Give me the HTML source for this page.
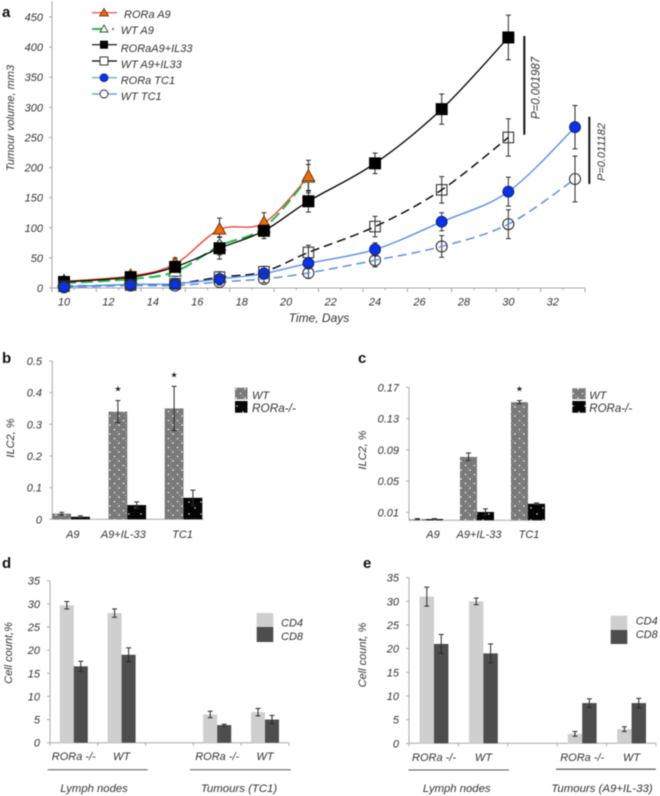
<!DOCTYPE html>
<html>
<head>
<meta charset="utf-8">
<title>Tumour volume, ILC2 and cell count charts</title>
<style>
html,body{margin:0;padding:0;background:#fff;}
#figure{display:block;width:660px;height:796px;filter:blur(0.6px);}
text{font-family:"Liberation Sans",sans-serif;font-style:italic;font-size:11px;fill:#333;}
.panel-letter{font-style:normal;font-weight:bold;font-size:15px;fill:#111;}
</style>
</head>
<body>
<svg id="figure" xmlns="http://www.w3.org/2000/svg" width="660" height="796" viewBox="0 0 660 796">
  <defs>
    <pattern id="checker" width="2" height="2" patternUnits="userSpaceOnUse">
      <rect width="2" height="2" fill="#5e5e5e"/>
      <rect width="1" height="1" fill="#9a9a9a"/>
      <rect x="1" y="1" width="1" height="1" fill="#8e8e8e"/>
    </pattern>
    <pattern id="wt-fill" width="9" height="9" patternUnits="userSpaceOnUse">
      <rect width="9" height="9" fill="url(#checker)"/>
      <circle cx="2" cy="2" r="0.8" fill="#fff"/>
      <circle cx="6.5" cy="6.5" r="0.8" fill="#fff"/>
    </pattern>
    <pattern id="ko-fill" width="12" height="12" patternUnits="userSpaceOnUse">
      <rect width="12" height="12" fill="#050505"/>
      <circle cx="3" cy="4" r="0.7" fill="#fff"/>
      <circle cx="9" cy="10" r="0.7" fill="#fff"/>
    </pattern>
  </defs>

  <!-- Panel letters -->
  <text class="panel-letter" x="2" y="17">a</text>
  <text class="panel-letter" x="2" y="363">b</text>
  <text class="panel-letter" x="358" y="363">c</text>
  <text class="panel-letter" x="2" y="568">d</text>
  <text class="panel-letter" x="363" y="568">e</text>

  <!-- Axis titles -->
  <text transform="translate(14,118) rotate(-90)" text-anchor="middle">Tumour volume, mm3</text>
  <text x="319" y="322" text-anchor="middle" style="font-size:12px">Time, Days</text>
  <text transform="translate(14,438) rotate(-90)" text-anchor="middle">ILC2, %</text>
  <text transform="translate(366,450) rotate(-90)" text-anchor="middle">ILC2, %</text>
  <text transform="translate(12,653) rotate(-90)" text-anchor="middle">Cell count,%</text>
  <text transform="translate(366,655) rotate(-90)" text-anchor="middle">Cell count, %</text>

  <!-- Panel a legend -->
  <g>
    <g>
      <line x1="92" y1="12.7" x2="117" y2="12.7" stroke="#f0392b" stroke-width="1.2"/>
      <polygon points="104,8.5 108.5,16 99.5,16" fill="#ee6a0a" stroke="#5a2a05" stroke-width="0.8"/>
      <text x="124" y="18">RORa A9</text>
    </g>
    <g>
      <line x1="92" y1="29" x2="117" y2="29" stroke="#1fb84a" stroke-width="2" stroke-dasharray="12,8,2,3"/>
      <polygon points="104,25 108,32 100,32" fill="#fff" stroke="#1a5c2a" stroke-width="0.9"/>
      <text x="120.7" y="34">WT A9</text>
    </g>
    <g>
      <line x1="92" y1="44.7" x2="117" y2="44.7" stroke="#000" stroke-width="1.2"/>
      <rect x="100" y="40.7" width="8" height="8" fill="#000"/>
      <text x="120.7" y="52">RORaA9+IL33</text>
    </g>
    <g>
      <line x1="92" y1="61" x2="117" y2="61" stroke="#000" stroke-width="1.2"/>
      <rect x="100" y="57" width="8" height="8" fill="#fff" stroke="#222" stroke-width="0.9"/>
      <text x="120.7" y="68">WT A9+IL33</text>
    </g>
    <g>
      <line x1="92" y1="77.7" x2="117" y2="77.7" stroke="#5b8fe8" stroke-width="1.2"/>
      <circle cx="104" cy="77.7" r="4" fill="#0a32e6" stroke="#0a1a60" stroke-width="0.7"/>
      <text x="120.7" y="84">RORa TC1</text>
    </g>
    <g>
      <line x1="92" y1="94" x2="117" y2="94" stroke="#5b8fe8" stroke-width="1.2"/>
      <circle cx="104" cy="94" r="4" fill="#fff" stroke="#222" stroke-width="0.9"/>
      <text x="120.7" y="100">WT TC1</text>
    </g>
  </g>

  <!-- P value brackets -->
  <line x1="524.3" y1="36" x2="524.3" y2="134.7" stroke="#111" stroke-width="2"/>
  <text transform="translate(539.5,88) rotate(-90)" text-anchor="middle" style="font-size:11.5px">P=0.001987</text>
  <line x1="589.3" y1="116.7" x2="589.3" y2="184" stroke="#111" stroke-width="2"/>
  <text transform="translate(605,152) rotate(-90)" text-anchor="middle" style="font-size:11px">P=0.011182</text>

  <!-- Panel b legend -->
  <g>
    <rect x="235" y="387.7" width="12.5" height="11.6" fill="url(#wt-fill)"/>
    <rect x="235" y="401" width="12.5" height="11.7" fill="url(#ko-fill)"/>
    <text x="252" y="399">WT</text>
    <text x="252" y="412" style="font-size:11.8px">RORa-/-</text>
  </g>

  <!-- Panel c legend -->
  <g>
    <rect x="572.3" y="388.3" width="13.4" height="11" fill="url(#wt-fill)"/>
    <rect x="572.3" y="401" width="13.4" height="11.7" fill="url(#ko-fill)"/>
    <text x="589.3" y="399">WT</text>
    <text x="589.3" y="412" style="font-size:11.5px">RORa-/-</text>
  </g>

  <!-- Panel d legend -->
  <g>
    <rect x="256.7" y="613" width="16.6" height="14" fill="#cfcfcf"/>
    <rect x="256.7" y="627" width="16.6" height="15" fill="#4d4d4d"/>
    <text x="281" y="626.5">CD4</text>
    <text x="281" y="640">CD8</text>
  </g>

  <!-- Panel e legend -->
  <g>
    <rect x="610.7" y="615.7" width="16.6" height="14.3" fill="#cfcfcf"/>
    <rect x="610.7" y="630" width="16.6" height="14" fill="#4d4d4d"/>
    <text x="635.7" y="624.5">CD4</text>
    <text x="635.7" y="638">CD8</text>
  </g>

  <!-- Group brackets panels d and e -->
  <line x1="47.7" y1="769.7" x2="147.7" y2="769.7" stroke="#555" stroke-width="1"/>
  <line x1="190" y1="769.7" x2="290.7" y2="769.7" stroke="#555" stroke-width="1"/>
  <text x="94" y="792" text-anchor="middle" style="font-size:11.3px">Lymph nodes</text>
  <text x="239" y="792" text-anchor="middle" style="font-size:11.4px">Tumours (TC1)</text>
  <line x1="408.5" y1="770" x2="509" y2="770" stroke="#555" stroke-width="1"/>
  <line x1="556" y1="769.3" x2="656" y2="769.3" stroke="#333" stroke-width="1"/>
  <text x="456.7" y="792" text-anchor="middle" style="font-size:11.3px">Lymph nodes</text>
  <text x="602" y="792" text-anchor="middle" style="font-size:11.4px">Tumours (A9+IL-33)</text>
</svg>

<script>
// ---------- Panel a data ----------
const daysA9 = [10, 13, 15, 17, 19, 21];
const daysIL33 = [10, 13, 15, 17, 19, 21, 24, 27, 30];
const daysTC1 = [10, 13, 15, 17, 19, 21, 24, 27, 30, 33];
const roraA9Values = [11, 20, 40, 97, 108, 185];
const roraA9Errors = [4, 4, 10, 19, 17, 27];
const wtA9Values = [8, 15, 27, 70, 100, 183];
const wtA9Errors = [4, 4, 8, 15, 12, 22];
const roraIL33Values = [10, 18, 35, 66, 95, 144, 207, 297, 416];
const roraIL33Errors = [8, 6, 12, 18, 13, 18, 17, 25, 37];
const wtIL33Values = [3, 5, 7, 18, 27, 59, 102, 163, 250];
const wtIL33Errors = [3, 4, 6, 9, 9, 12, 17, 22, 31];
const roraTC1Values = [2, 6, 7, 15, 24, 41, 64, 110, 160, 267];
const roraTC1Errors = [2, 3, 3, 6, 7, 9, 11, 15, 24, 36];
const wtTC1Values = [1, 4, 4, 10, 15, 25, 46, 69, 106, 181];
const wtTC1Errors = [2, 3, 3, 5, 6, 9, 11, 18, 24, 38];
const xTicksA = [10, 12, 14, 16, 18, 20, 22, 24, 26, 28, 30, 32];
const yTicksA = [0, 50, 100, 150, 200, 250, 300, 350, 400, 450];

// ---------- Panel b data ----------
const categoriesB = ['A9', 'A9+IL-33', 'TC1'];
const wtB = [0.018, 0.34, 0.35];
const wtErrB = [0.004, 0.035, 0.07];
const koB = [0.008, 0.045, 0.068];
const koErrB = [0.003, 0.01, 0.024];
const starsB = [false, true, true];
const yTicksB = [0, 0.1, 0.2, 0.3, 0.4, 0.5];
const yTickLabelsB = ['0', '0.1', '0.2', '0.3', '0.4', '0.5'];

// ---------- Panel c data ----------
const categoriesC = ['A9', 'A9+IL-33', 'TC1'];
const wtC = [0.0015, 0.081, 0.151];
const wtErrC = [0.0005, 0.005, 0.002];
const koC = [0.0015, 0.0105, 0.021];
const koErrC = [0.0005, 0.004, 0.001];
const starsC = [false, false, true];
const yTicksC = [0.01, 0.05, 0.09, 0.13, 0.17];
const yTickLabelsC = ['0.01', '0.05', '0.09', '0.13', '0.17'];

// ---------- Panel d data ----------
const categoriesD = ['RORa -/-', 'WT', '', 'RORa -/-', 'WT'];
const cd4D = [29.7, 28, null, 6.1, 6.6];
const cd4ErrD = [0.8, 0.9, null, 0.7, 0.8];
const cd8D = [16.5, 19, null, 3.8, 5];
const cd8ErrD = [1.1, 1.5, null, 0.2, 0.9];
const yTicksD = [0, 5, 10, 15, 20, 25, 30, 35];

// ---------- Panel e data ----------
const categoriesE = ['RORa -/-', 'WT', '', 'RORa -/-', 'WT'];
const cd4E = [31, 30, null, 2, 3];
const cd4ErrE = [2, 0.7, null, 0.5, 0.5];
const cd8E = [21, 19, null, 8.5, 8.5];
const cd8ErrE = [2, 2, null, 0.9, 1];
const yTicksE = [0, 5, 10, 15, 20, 25, 30, 35];

const NS = 'http://www.w3.org/2000/svg';
const root = document.getElementById('figure');

function make(tag, attrs, parent, name) {
  const el = document.createElementNS(NS, tag);
  for (const k in attrs) el.setAttribute(k, attrs[k]);
  
  
  parent.appendChild(el);
  return el;
}
function label(parent, x, y, str, anchor, name) {
  const t = make('text', { x: x, y: y, 'text-anchor': anchor }, parent, name);
  t.textContent = str;
  return t;
}
function linear(d0, d1, r0, r1) {
  return function (v) { return r0 + (v - d0) * (r1 - r0) / (d1 - d0); };
}
function smoothPath(pts) {
  let d = 'M' + pts[0][0] + ',' + pts[0][1];
  for (let i = 0; i < pts.length - 1; i++) {
    const p0 = pts[Math.max(i - 1, 0)], p1 = pts[i], p2 = pts[i + 1], p3 = pts[Math.min(i + 2, pts.length - 1)];
    const c1x = p1[0] + (p2[0] - p0[0]) / 6, c1y = p1[1] + (p2[1] - p0[1]) / 6;
    const c2x = p2[0] - (p3[0] - p1[0]) / 6, c2y = p2[1] - (p3[1] - p1[1]) / 6;
    d += 'C' + c1x + ',' + c1y + ' ' + c2x + ',' + c2y + ' ' + p2[0] + ',' + p2[1];
  }
  return d;
}
function errorBar(parent, x, yTop, yBot, cap, name) {
  const g = make('g', { stroke: '#2a2a2a', 'stroke-width': 1, fill: 'none' }, parent, name);
  make('line', { x1: x, x2: x, y1: yTop, y2: yBot }, g, 'error-stem');
  make('line', { x1: x - cap, x2: x + cap, y1: yTop, y2: yTop }, g, 'error-cap-top');
  make('line', { x1: x - cap, x2: x + cap, y1: yBot, y2: yBot }, g, 'error-cap-bottom');
}

// ---------- Panel a ----------
const xA = linear(10, 33, 64, 575);
const yA = linear(0, 450, 288, 17);
const panelA = make('g', {}, root, 'tumour-growth-chart');
const axisA = make('g', { stroke: '#a5a5a5', 'stroke-width': 1 }, panelA, 'tumour-growth-axes');
make('line', { x1: 52, x2: 52, y1: 1, y2: 288 }, axisA, 'y-axis-line');
make('line', { x1: 52, x2: 585, y1: 288, y2: 288 }, axisA, 'x-axis-line');
yTicksA.forEach(function (v) {
  make('line', { x1: 49, x2: 52, y1: yA(v), y2: yA(v) }, axisA, 'y-tick');
  label(panelA, 43, yA(v) + 4, String(v), 'end', 'y-tick-label');
});
for (let i = 0; i <= 24; i++) {
  const tx = 52 + i * (585 - 52) / 24;
  make('line', { x1: tx, x2: tx, y1: 288, y2: i % 2 === 0 ? 292 : 290 }, axisA, 'x-tick');
}
xTicksA.forEach(function (v) {
  label(panelA, xA(v), 305.5, String(v), 'middle', 'x-tick-label');
});

const seriesA = [
  { name: 'rora-a9', days: daysA9, vals: roraA9Values, errs: roraA9Errors, color: '#f0392b', width: 1.3, dash: '', marker: 'tri', fill: '#ee6a0a', edge: '#5a2a05' },
  { name: 'wt-a9', days: daysA9, vals: wtA9Values, errs: wtA9Errors, color: '#1fb84a', width: 2, dash: '12,5', marker: 'tri', fill: '#ffffff', edge: '#1a5c2a' },
  { name: 'rora-a9-il33', days: daysIL33, vals: roraIL33Values, errs: roraIL33Errors, color: '#000000', width: 1.3, dash: '', marker: 'square', fill: '#000000', edge: '#000000' },
  { name: 'wt-a9-il33', days: daysIL33, vals: wtIL33Values, errs: wtIL33Errors, color: '#000000', width: 1.4, dash: '9,5', marker: 'square', fill: 'none', edge: '#333333' },
  { name: 'rora-tc1', days: daysTC1, vals: roraTC1Values, errs: roraTC1Errors, color: '#5b8fe8', width: 1.4, dash: '', marker: 'circle', fill: '#0a32e6', edge: '#0a1a60' },
  { name: 'wt-tc1', days: daysTC1, vals: wtTC1Values, errs: wtTC1Errors, color: '#5b8fe8', width: 1.5, dash: '9,5', marker: 'circle', fill: 'none', edge: '#333333' }
];
seriesA.forEach(function (s) {
  const g = make('g', {}, panelA, 'series-' + s.name + '-line');
  s.days.forEach(function (d, i) {
    errorBar(g, xA(d), yA(s.vals[i] + s.errs[i]), yA(s.vals[i] - s.errs[i]), 2.5, 'error-bar');
  });
  const pts = s.days.map(function (d, i) { return [xA(d), yA(s.vals[i])]; });
  const attrs = { d: smoothPath(pts), fill: 'none', stroke: s.color, 'stroke-width': s.width };
  if (s.dash) attrs['stroke-dasharray'] = s.dash;
  make('path', attrs, g, 'curve');
});
[1, 0, 2, 3, 4, 5].forEach(function (idx) {
  const s = seriesA[idx];
  const g = make('g', {}, panelA, 'series-' + s.name + '-markers');
  s.days.forEach(function (d, i) {
    const x = xA(d), y = yA(s.vals[i]);
    if (s.marker === 'tri') {
      make('polygon', { points: (x) + ',' + (y - 7) + ' ' + (x + 6.2) + ',' + (y + 4.5) + ' ' + (x - 6.2) + ',' + (y + 4.5), fill: s.fill, stroke: s.edge, 'stroke-width': 0.9 }, g, 'marker');
    } else if (s.marker === 'square') {
      const open = s.fill === 'none';
      const size = open ? 10.5 : 12;
      make('rect', { x: x - size / 2, y: y - size / 2, width: size, height: size, fill: s.fill, stroke: s.edge, 'stroke-width': open ? 1.1 : 0 }, g, 'marker');
    } else {
      make('circle', { cx: x, cy: y, r: 5.5, fill: s.fill, stroke: s.edge, 'stroke-width': s.fill === 'none' ? 1.1 : 0.8 }, g, 'marker');
    }
  });
});

// ---------- Grouped bar charts ----------
function drawBars(c) {
  const panel = make('g', {}, root, c.name);
  const y = linear(c.d0, c.d1, c.r0, c.r1);
  const axis = make('g', { stroke: '#aaaaaa', 'stroke-width': 1 }, panel, c.name + '-axes');
  make('line', { x1: c.x0, x2: c.x0, y1: c.r0, y2: y(c.yTicks[c.yTicks.length - 1]) }, axis, 'y-axis-line');
  make('line', { x1: c.x0, x2: c.xEnd, y1: c.r0, y2: c.r0 }, axis, 'x-axis-line');
  c.yTicks.forEach(function (v, i) {
    make('line', { x1: c.x0 - 3, x2: c.x0, y1: y(v), y2: y(v) }, axis, 'y-tick');
    label(panel, c.tickRight, y(v) + 4, c.yLabels ? c.yLabels[i] : String(v), 'end', 'y-tick-label');
  });
  c.cats.forEach(function (cat, i) {
    const band = c.x0 + i * c.step;
    if (c.xTicks) {
      make('line', { x1: band, x2: band, y1: c.r0, y2: c.r0 + 3 }, axis, 'x-tick');
    }
    if (c.xTicks && i === c.cats.length - 1) {
      make('line', { x1: band + c.step, x2: band + c.step, y1: c.r0, y2: c.r0 + 3 }, axis, 'x-tick');
    }
    if (cat) {
      const center = band + c.offset + c.barW + (c.labelDx ? c.labelDx[i] : 0);
      label(panel, center, c.labelY, cat, 'middle', 'category-label');
    }
    if (c.a[i] === null) return;
    const xa = band + c.offset, xb = xa + c.barW;
    make('rect', { x: xa, y: y(c.a[i]), width: c.barW, height: c.r0 - y(c.a[i]), fill: c.fillA }, panel, c.nameA + '-bar');
    make('rect', { x: xb, y: y(c.b[i]), width: c.barW, height: c.r0 - y(c.b[i]), fill: c.fillB }, panel, c.nameB + '-bar');
    errorBar(panel, xa + c.barW / 2, y(c.a[i] + c.aErr[i]), y(c.a[i] - c.aErr[i]), c.cap, c.nameA + '-error-bar');
    errorBar(panel, xb + c.barW / 2, y(c.b[i] + c.bErr[i]), y(c.b[i] - c.bErr[i]), c.cap, c.nameB + '-error-bar');
    if (c.stars && c.stars[i]) {
      const star = make('text', { x: xa + c.barW / 2, y: y(c.a[i] + c.aErr[i]) - 9, 'text-anchor': 'middle', style: 'font-style:normal;font-size:8px;font-family:\'DejaVu Sans\',sans-serif;fill:#222' }, panel, 'significance-star');
      star.textContent = '\u2605';
    }
  });
}

drawBars({ name: 'ilc2-chart-b', d0: 0, d1: 0.5, r0: 519.3, r1: 361, x0: 52.3, xEnd: 203.5, step: 56.2, offset: 0, barW: 18.8,
  cats: categoriesB, a: wtB, aErr: wtErrB, b: koB, bErr: koErrB, yTicks: yTicksB, yLabels: yTickLabelsB, stars: starsB,
  tickRight: 42, labelY: 538, labelDx: [1.7, -4, -1], fillA: 'url(#wt-fill)', fillB: 'url(#ko-fill)', nameA: 'wt', nameB: 'rora-ko', cap: 2.5, xTicks: false });

drawBars({ name: 'ilc2-chart-c', d0: 0, d1: 0.17, r0: 520.2, r1: 387.3, x0: 409, xEnd: 545, step: 51, offset: 0, barW: 17,
  cats: categoriesC, a: wtC, aErr: wtErrC, b: koC, bErr: koErrC, yTicks: yTicksC, yLabels: yTickLabelsC, stars: starsC,
  tickRight: 399, labelY: 538, labelDx: [7, 2, 1], fillA: 'url(#wt-fill)', fillB: 'url(#ko-fill)', nameA: 'wt', nameB: 'rora-ko', cap: 2.5, xTicks: false });

drawBars({ name: 'cell-count-chart-d', d0: 0, d1: 35, r0: 742.7, r1: 580.7, x0: 50, xEnd: 289, step: 47.8, offset: 9.8, barW: 14,
  cats: categoriesD, a: cd4D, aErr: cd4ErrD, b: cd8D, bErr: cd8ErrD, yTicks: yTicksD,
  tickRight: 40, labelY: 760, fillA: '#cfcfcf', fillB: '#4d4d4d', nameA: 'cd4', nameB: 'cd8', cap: 2.5, xTicks: true });

drawBars({ name: 'cell-count-chart-e', d0: 0, d1: 35, r0: 743.3, r1: 577.7, x0: 409, xEnd: 656, step: 49.4, offset: 10.6, barW: 14.4,
  cats: categoriesE, a: cd4E, aErr: cd4ErrE, b: cd8E, bErr: cd8ErrE, yTicks: yTicksE,
  tickRight: 399, labelY: 761, fillA: '#cfcfcf', fillB: '#4d4d4d', nameA: 'cd4', nameB: 'cd8', cap: 2.5, xTicks: true });
</script>
</body>
</html>
